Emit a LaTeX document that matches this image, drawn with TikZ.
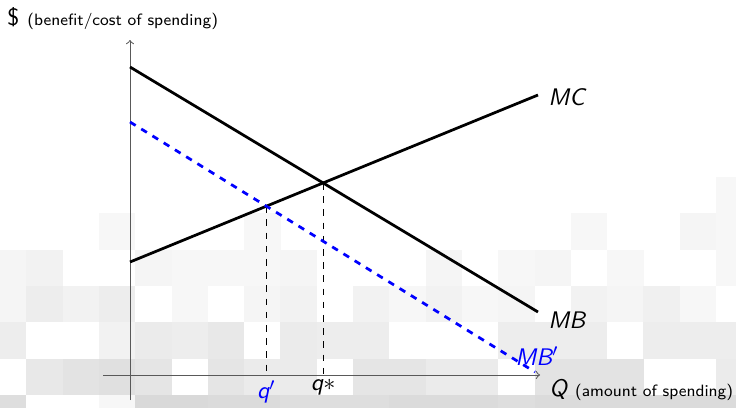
\documentclass[tikz,border=0pt]{standalone}
\usetikzlibrary{calc}
\begin{document}
\begin{tikzpicture}[x=0.4545pt,y=-0.4545pt,
  lab/.style={font=\sffamily\fontsize{10.9}{13}\selectfont},
  axisline/.style={black!65,line width=0.45pt,->},
  curve/.style={black,line width=1.25pt},
  shifted/.style={blue,line width=1.25pt,dashed},
  guide/.style={black,line width=0.4pt,dashed}]
\useasboundingbox (0,0) rectangle (736,407);
% background tiles
\begin{scope}
\clip (0,0) rectangle (736,407);
\foreach \r/\c/\n in {0/20/3,
 1/3/3,1/7/3,1/16/3,1/19/4,1/20/3,
 2/0/4,2/1/5,2/4/4,2/5/3,2/6/3,2/7/3,2/8/4,2/12/4,2/14/3,2/15/4,2/17/3,2/20/3,
 3/0/4,3/1/7,3/2/5,3/3/7,3/5/3,3/7/4,3/8/5,3/10/5,3/11/3,3/12/5,3/13/3,3/14/4,3/16/5,3/17/4,3/18/6,3/19/3,
 4/0/7,4/3/5,4/4/8,4/5/7,4/6/9,4/8/8,4/9/7,4/10/7,4/14/7,4/15/7,4/16/7,4/18/7,4/19/7,4/20/7,
 5/1/9,5/2/11,5/3/12,5/4/10,5/6/10,5/7/8,5/8/8,5/10/10,5/11/10,5/12/8,5/13/8,5/15/11,5/16/11,5/17/11,5/20/8,
 6/0/13,6/3/3,6/4/15,6/5/15,6/6/14,6/7/14,6/8/13,6/9/13,6/10/13,6/11/14,6/12/14,6/13/14,6/14/13,6/15/14,6/16/14,6/17/14,6/18/14,6/19/14,6/20/14}
  \fill[black!\n] ({-10+36.3*\c},{177+36.3*\r}) rectangle +(36.4,36.4);
\end{scope}
% coordinates
\coordinate (O) at (130,375);
\coordinate (ybot) at (130,400);
\coordinate (ytop) at (130,40);
\coordinate (xleft) at (103,375);
\coordinate (xright) at (540,375);
\coordinate (mb1) at (130,67);
\coordinate (mb2) at (538,312);
\coordinate (mc1) at (130,262);
\coordinate (mc2) at (538,95);
\coordinate (mbp1) at (130,122);
\coordinate (mbp2) at (535,372);
\coordinate (E) at (intersection of mb1--mb2 and mc1--mc2);
\coordinate (F) at (intersection of mbp1--mbp2 and mc1--mc2);
% axes
\draw[axisline] (ybot) -- (ytop);
\draw[axisline] (xleft) -- (xright);
% guides
\draw[guide] (F) -- (F |- O);
\draw[guide] (E) -- (E |- O);
% curves
\draw[curve] (mb1) -- (mb2);
\draw[curve] (mc1) -- (mc2);
\draw[shifted] (mbp1) -- (mbp2);
% labels
\node[lab,anchor=west,inner sep=0pt] (lmc) at (548,97) {\itshape MC};
\node[lab,anchor=west,inner sep=0pt] (lmb) at (548,320) {\itshape MB};
\node[lab,anchor=west,inner sep=0pt,text=blue] (lmbp) at (515,356) {\itshape MB$'$};
\node[lab,anchor=north,inner sep=0pt,text=blue] (lqp) at (F |- 0,380) {\itshape q$'$};
\node[lab,anchor=north,inner sep=0pt] (lqs) at (E |- 0,379) {\itshape q$\ast$};
\node[lab,anchor=west,inner sep=0pt] (lQ) at (549,390) {\itshape Q\upshape\ \fontsize{7.45}{9}\selectfont (amount of spending)};
\node[lab,anchor=west,inner sep=0pt] (ly) at (7,19) {\$\ \fontsize{7.45}{9}\selectfont (benefit/cost of spending)};
\end{tikzpicture}
\end{document}
